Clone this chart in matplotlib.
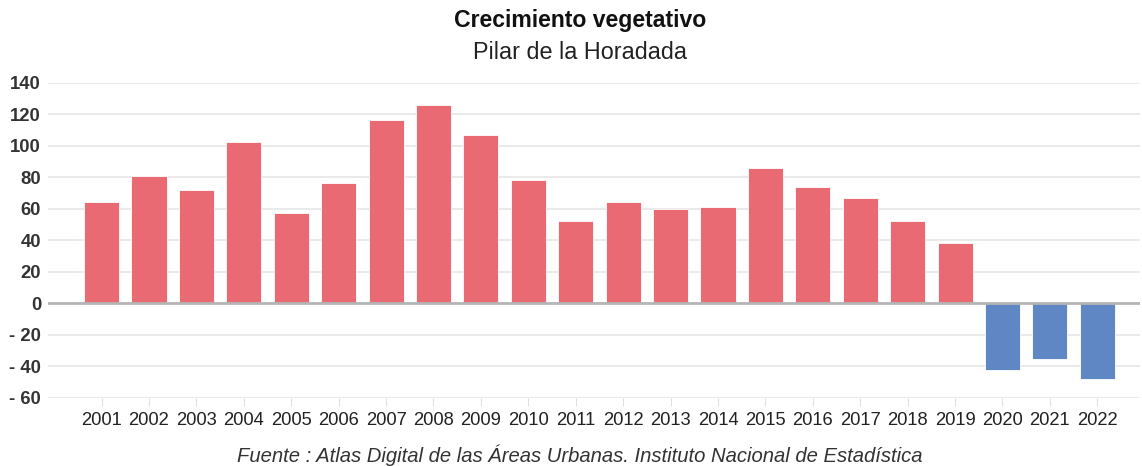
import numpy as np
import matplotlib
matplotlib.use("Agg")
import matplotlib.pyplot as plt

# data
years = [str(y) for y in range(2001, 2023)]
growth = [64, 81, 72, 102, 57, 76, 116, 126, 107, 78, 52,
          64, 60, 61, 86, 74, 67, 52, 38, -42, -35, -48]
y_ticks = [-60, -40, -20, 0, 20, 40, 60, 80, 100, 120, 140]

RED = "#ea6a74"
BLUE = "#5e87c4"

plt.rcParams["font.family"] = ["Liberation Sans", "DejaVu Sans"]

fig = plt.figure(figsize=(11.42, 4.66), dpi=100)
ax = fig.add_axes([48 / 1142, 68 / 466, 1092 / 1142, 315.5 / 466])

x = np.arange(len(years))
colors = [RED if v >= 0 else BLUE for v in growth]
ax.bar(x, growth, width=0.74, color=colors, edgecolor="white", linewidth=0.6, zorder=3)

ax.set_ylim(-60, 140)
ax.set_xlim(-1.13, len(years) - 0.1)
ax.set_yticks(y_ticks)
ax.set_yticklabels([f"- {abs(t)}" if t < 0 else str(t) for t in y_ticks],
                   fontsize=13.3, fontweight="bold", color="#333333")
ax.set_xticks(x)
ax.set_xticklabels(years, fontsize=13.2, color="#222222")

ax.grid(axis="y", color="#e6e6e6", linewidth=1.2, zorder=0)
ax.axhline(0, color="#b5b5b5", linewidth=2, zorder=4)
for s in ax.spines.values():
    s.set_visible(False)
ax.tick_params(axis="y", length=0, pad=5)
ax.tick_params(axis="x", length=6, color="#e0e0e0", pad=4)

fig.text(0.508, 0.955, "Crecimiento vegetativo", ha="center", va="center",
         fontsize=16.6, fontweight="bold", color="#111111")
fig.text(0.508, 0.887, "Pilar de la Horadada", ha="center", va="center",
         fontsize=16.8, color="#222222")
fig.text(0.508, 0.024, "Fuente : Atlas Digital de las Áreas Urbanas. Instituto Nacional de Estadística",
         ha="center", va="center", fontsize=14.6, style="italic", color="#333333")

fig.savefig("out.png", dpi=100)
